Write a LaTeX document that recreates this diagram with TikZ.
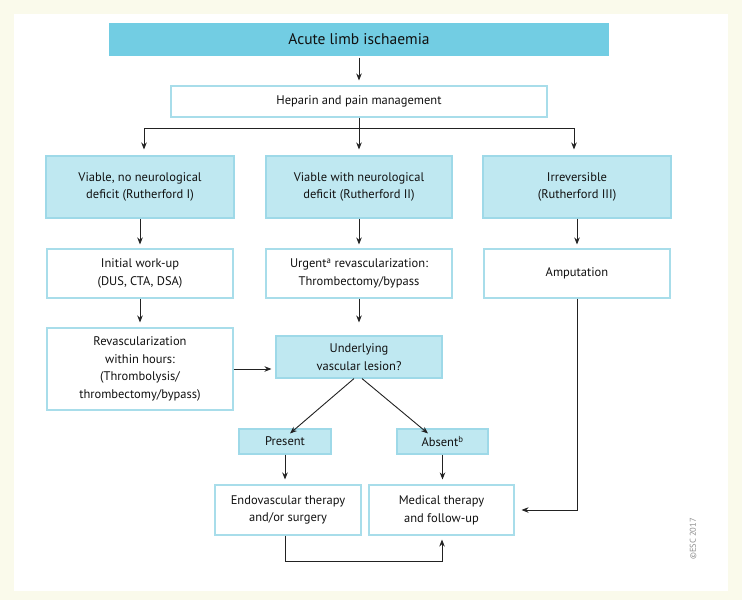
\documentclass[tikz,border=0pt]{standalone}
\usepackage{fontspec}
\setmainfont{PT Sans}
\usetikzlibrary{arrows.meta}
\definecolor{bgcream}{HTML}{FAFAEB}
\definecolor{titlefill}{HTML}{72CDE3}
\definecolor{lightfill}{HTML}{BFE8F1}
\definecolor{lightborder}{HTML}{9ED9E8}
\definecolor{whiteborder}{HTML}{A8DDEA}
\definecolor{txt}{HTML}{111111}
\definecolor{lnk}{HTML}{222222}
\tikzset{
  box/.style={draw=whiteborder, line width=1.1pt, fill=white, text=txt, align=center, inner sep=0pt, anchor=center, font=\fontsize{12.5}{17.7}\selectfont},
  cbox/.style={box, draw=lightborder, fill=lightfill},
  tbox/.style={box, draw=titlefill, fill=titlefill, font=\fontsize{15.5}{17.7}\selectfont},
  conn/.style={draw=lnk, line width=0.9pt, -{Stealth[length=7pt,width=5.5pt]}},
  plain/.style={draw=lnk, line width=0.9pt}
}
\begin{document}
\begin{tikzpicture}[x=1pt,y=-1pt]
\fill[bgcream] (0,0) rectangle (742,600);
\fill[white] (14,14) rectangle (728,591);
\useasboundingbox (0,0) rectangle (742,600);

\node[tbox, minimum width=498pt, minimum height=31pt] (title) at (359,39.5) {Acute limb ischaemia};
\node[box, minimum width=376pt, minimum height=31pt] (hep) at (359,101.5) {Heparin and pain management};

\node[cbox, minimum width=188pt, minimum height=62pt] (v1) at (140,187) {Viable, no neurological\\deficit (Rutherford I)};
\node[cbox, minimum width=186pt, minimum height=62pt] (v2) at (359,187) {Viable with neurological\\deficit (Rutherford II)};
\node[cbox, minimum width=188pt, minimum height=62pt] (v3) at (577,187) {Irreversible\\(Rutherford III)};

\node[box, minimum width=186pt, minimum height=49pt] (w1) at (140,273.5) {Initial work-up\\(DUS, CTA, DSA)};
\node[box, minimum width=186pt, minimum height=49pt] (w2) at (359,273.5) {Urgent\textsuperscript{a} revascularization:\\Thrombectomy/bypass};
\node[box, minimum width=186pt, minimum height=49pt] (w3) at (577,273.5) {Amputation};

\node[box, minimum width=186pt, minimum height=82pt] (rev) at (140,369) {Revascularization\\within hours:\\(Thrombolysis/\\thrombectomy/bypass)};
\node[cbox, minimum width=166pt, minimum height=42pt] (und) at (359,357) {Underlying\\vascular lesion?};

\node[cbox, minimum width=92pt, minimum height=25pt] (pres) at (285,441.5) {Present};
\node[cbox, minimum width=91pt, minimum height=25pt] (abs) at (442.5,441.5) {Absent\textsuperscript{b}};

\node[box, minimum width=146pt, minimum height=50pt] (endo) at (288,510) {Endovascular therapy\\and/or surgery};
\node[box, minimum width=145pt, minimum height=50pt] (med) at (441.5,510) {Medical therapy\\and follow-up};

\node[rotate=90, text=black!45, font=\fontsize{8.5}{9}\selectfont] (esc) at (693,539) {©ESC 2017};

% connectors
\draw[conn, shorten <=2pt, shorten >=5pt] (title.south) -- (hep.north);
\coordinate (bl) at (144,128);
\coordinate (bm) at (359,128);
\coordinate (br) at (574,128);
\draw[plain] (hep.south) -- (bm);
\draw[plain] (bl) -- (br);
\draw[conn, shorten >=6pt] (bl) -- (bl |- v1.north);
\draw[conn, shorten >=6pt] (bm) -- (v2.north);
\draw[conn, shorten >=6pt] (br) -- (br |- v3.north);

\draw[conn, shorten >=4pt] (v1.south) -- (w1.north);
\draw[conn, shorten >=4pt] (v2.south) -- (w2.north);
\draw[conn, shorten >=4pt] (v3.south) -- (w3.north);

\draw[conn, shorten >=5pt] (w1.south) -- (rev.north);
\draw[conn, shorten >=13pt] (w2.south) -- (und.north);

\draw[conn, shorten >=4pt] (rev.east) -- (rev.east -| und.west);

\draw[conn] ([xshift=-5pt]und.south) -- ([xshift=5pt,yshift=-5pt]pres.north);
\draw[conn] ([xshift=3pt]und.south) -- ([xshift=-14.5pt,yshift=-5pt]abs.north);

\draw[conn, shorten >=5pt] (pres.south) -- (pres.south |- endo.north);
\draw[conn, shorten >=5pt] (abs.south) -- (abs.south |- endo.north);

\coordinate (lb) at (285,561);
\coordinate (rb) at (442,561);
\draw[conn, shorten >=4pt] (endo.south -| lb) -- (lb) -- (rb) -- (rb |- med.south);

\draw[conn, shorten >=7pt] (w3.south) |- (med.east);
\end{tikzpicture}
\end{document}
